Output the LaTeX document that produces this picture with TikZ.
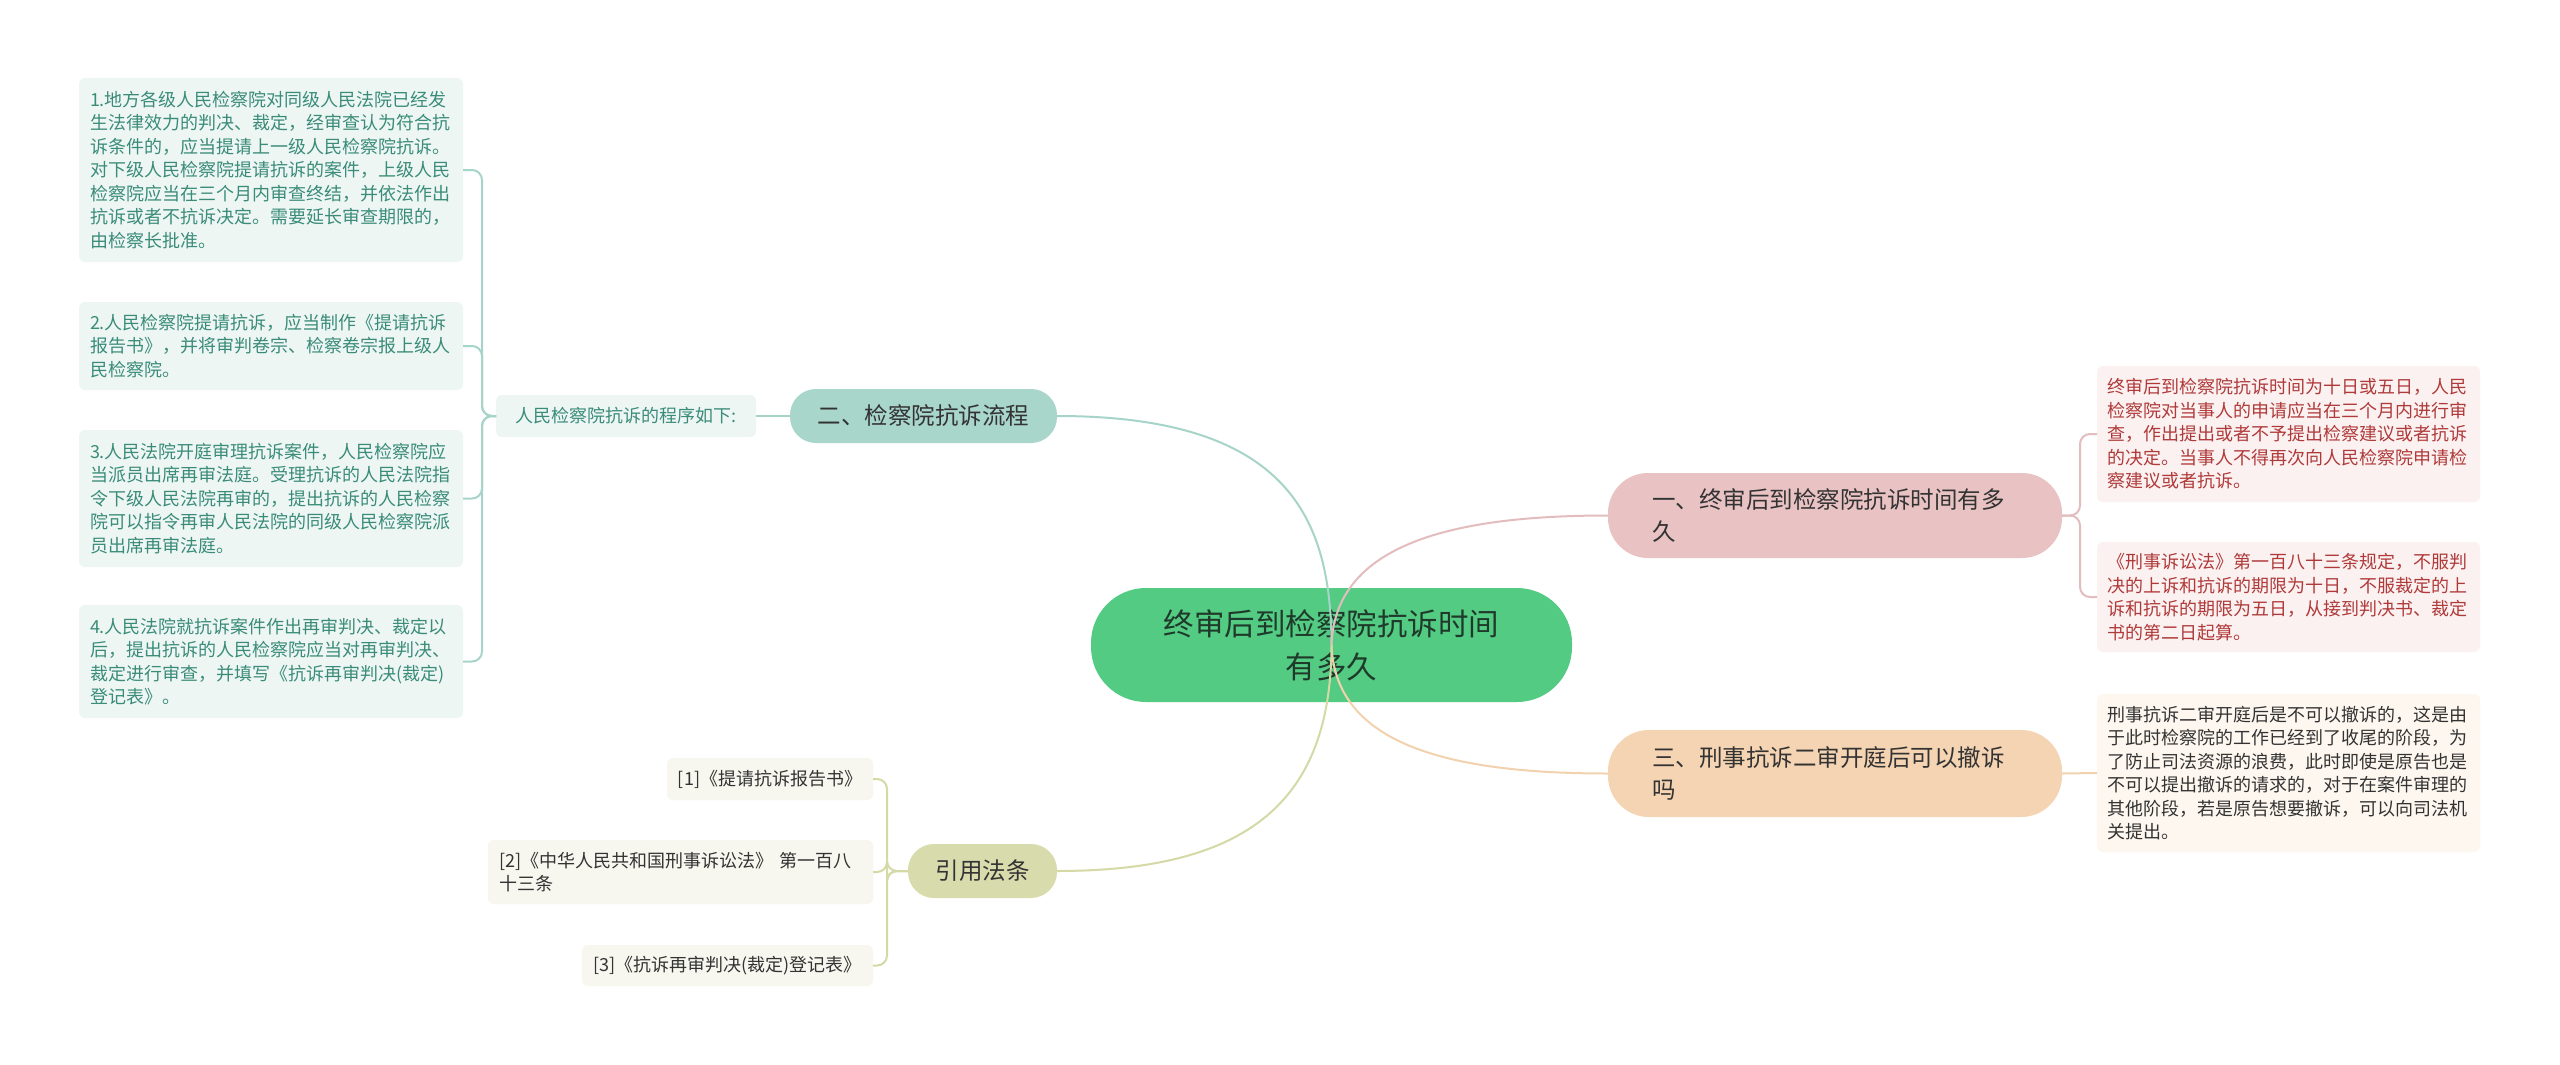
\documentclass[tikz,border=0pt]{standalone}
\usepackage{fontspec}
\setmainfont{Noto Sans CJK SC}
\definecolor{cgreen}{HTML}{53CB83}
\definecolor{ctext}{HTML}{1F3A2A}
\definecolor{tealfill}{HTML}{A9D6CB}
\definecolor{tealline}{HTML}{A6D4C8}
\definecolor{tealtext}{HTML}{3A8C78}
\definecolor{tealbox}{HTML}{EEF6F4}
\definecolor{pinkfill}{HTML}{E9C3C3}
\definecolor{pinkline}{HTML}{E3BDBD}
\definecolor{redbox}{HTML}{FBF1F1}
\definecolor{redtext}{HTML}{B03A3A}
\definecolor{peachfill}{HTML}{F4D4B2}
\definecolor{peachline}{HTML}{F2D2AE}
\definecolor{peachbox}{HTML}{FEF7F0}
\definecolor{olivefill}{HTML}{D8DCAC}
\definecolor{oliveline}{HTML}{D4D9A6}
\definecolor{citebox}{HTML}{F7F7EF}
\definecolor{darktext}{HTML}{333333}
\tikzset{
  base/.style={rectangle, inner sep=0pt, outer sep=0pt},
  small/.style={base, rounded corners=6pt, font=\fontsize{18}{23.5}\selectfont, align=left, text width=362pt},
  tealsmall/.style={small, fill=tealbox, text=tealtext},
  redsmall/.style={small, fill=redbox, text=redtext},
  peachsmall/.style={small, fill=peachbox, text=darktext},
  cite/.style={base, rounded corners=6pt, fill=citebox, text=darktext, font=\fontsize{18}{23.5}\selectfont, align=left},
  branch/.style={base, font=\fontsize{23.5}{32}\selectfont, text=darktext},
  conn/.style={line width=2pt},
}
\begin{document}
\begin{tikzpicture}[x=1pt,y=-1pt]
\useasboundingbox[fill=white] (0,0) rectangle (2560,1065);

% central
\node[base, fill=cgreen, rounded corners=55pt, minimum width=481pt, minimum height=114pt,
  font=\fontsize{30.5}{43}\selectfont, text=ctext, align=center] (c) at (1331.5,645) {终审后到检察院抗诉时间\\有多久};

% left branch
\node[branch, fill=tealfill, rounded corners=26pt, minimum width=267pt, minimum height=54pt] (b2) at (923.5,416) {二、检察院抗诉流程};
\node[base, fill=tealbox, rounded corners=6pt, minimum width=260pt, minimum height=42pt, text=tealtext, font=\fontsize{18}{22}\selectfont] (lab) at (626,416) {人民检察院抗诉的程序如下:};

\node[tealsmall, minimum width=384pt, minimum height=184pt] (l1) at (271,170) {1.地方各级人民检察院对同级人民法院已经发\\生法律效力的判决、裁定，经审查认为符合抗\\诉条件的，应当提请上一级人民检察院抗诉。\\对下级人民检察院提请抗诉的案件，上级人民\\检察院应当在三个月内审查终结，并依法作出\\抗诉或者不抗诉决定。需要延长审查期限的，\\由检察长批准。};
\node[tealsmall, minimum width=384pt, minimum height=88pt] (l2) at (271,346) {2.人民检察院提请抗诉，应当制作《提请抗诉\\报告书》，并将审判卷宗、检察卷宗报上级人\\民检察院。};
\node[tealsmall, minimum width=384pt, minimum height=137pt] (l3) at (271,498.5) {3.人民法院开庭审理抗诉案件，人民检察院应\\当派员出席再审法庭。受理抗诉的人民法院指\\令下级人民法院再审的，提出抗诉的人民检察\\院可以指令再审人民法院的同级人民检察院派\\员出席再审法庭。};
\node[tealsmall, minimum width=384pt, minimum height=113pt] (l4) at (271,661.5) {4.人民法院就抗诉案件作出再审判决、裁定以\\后，提出抗诉的人民检察院应当对再审判决、\\裁定进行审查，并填写《抗诉再审判决(裁定)\\登记表》。};

% right branches
\node[branch, fill=pinkfill, rounded corners=40pt, minimum width=454pt, minimum height=85pt, text width=366pt, align=left] (b1) at (1835,515.5) {一、终审后到检察院抗诉时间有多\\久};
\node[branch, fill=peachfill, rounded corners=41pt, minimum width=454pt, minimum height=87pt, text width=366pt, align=left] (b3) at (1835,773.5) {三、刑事抗诉二审开庭后可以撤诉\\吗};

\node[redsmall, minimum width=383pt, minimum height=136pt] (r1) at (2288.5,434) {终审后到检察院抗诉时间为十日或五日，人民\\检察院对当事人的申请应当在三个月内进行审\\查，作出提出或者不予提出检察建议或者抗诉\\的决定。当事人不得再次向人民检察院申请检\\察建议或者抗诉。};
\node[redsmall, minimum width=383pt, minimum height=110pt] (r2) at (2288.5,597) {《刑事诉讼法》第一百八十三条规定，不服判\\决的上诉和抗诉的期限为十日，不服裁定的上\\诉和抗诉的期限为五日，从接到判决书、裁定\\书的第二日起算。};
\node[peachsmall, minimum width=383pt, minimum height=158pt] (r3) at (2288.5,773) {刑事抗诉二审开庭后是不可以撤诉的，这是由\\于此时检察院的工作已经到了收尾的阶段，为\\了防止司法资源的浪费，此时即使是原告也是\\不可以提出撤诉的请求的，对于在案件审理的\\其他阶段，若是原告想要撤诉，可以向司法机\\关提出。};

% bottom branch
\node[branch, fill=olivefill, rounded corners=26pt, minimum width=149pt, minimum height=54pt] (b4) at (982.5,871) {引用法条};
\node[cite, minimum width=206pt, minimum height=42pt] (q1) at (770,779) {[1]《提请抗诉报告书》};
\node[cite, minimum width=385pt, minimum height=64pt, text width=362pt] (q2) at (680.5,872) {[2]《中华人民共和国刑事诉讼法》 第一百八\\十三条};
\node[cite, minimum width=291pt, minimum height=41pt] (q3) at (727.5,965.5) {[3]《抗诉再审判决(裁定)登记表》};

% connectors from centre
\draw[conn, tealline] (c.center) .. controls (1331,520) and (1290,416) .. (b2.east);
\draw[conn, pinkline] (c.center) .. controls (1335,545) and (1450,515.5) .. (b1.west);
\draw[conn, peachline] (c.center) .. controls (1335,745) and (1450,773.5) .. (b3.west);
\draw[conn, oliveline] (c.center) .. controls (1331,800) and (1250,871) .. (b4.east);

% left side
\draw[conn, tealline] (b2.west) -- (lab.east);
\foreach \n in {l1,l2,l3,l4}
  \draw[conn, tealline, rounded corners=10pt] (lab.west) -- ++(-14,0) |- (\n.east);

% right side
\foreach \n in {r1,r2}
  \draw[conn, pinkline, rounded corners=10pt] (b1.east) -- ++(18,0) |- (\n.west);
\draw[conn, peachline] (b3.east) -- (r3.west);

% bottom
\foreach \n in {q1,q2,q3}
  \draw[conn, oliveline, rounded corners=10pt] (b4.west) -- ++(-21,0) |- (\n.east);
\end{tikzpicture}
\end{document}
